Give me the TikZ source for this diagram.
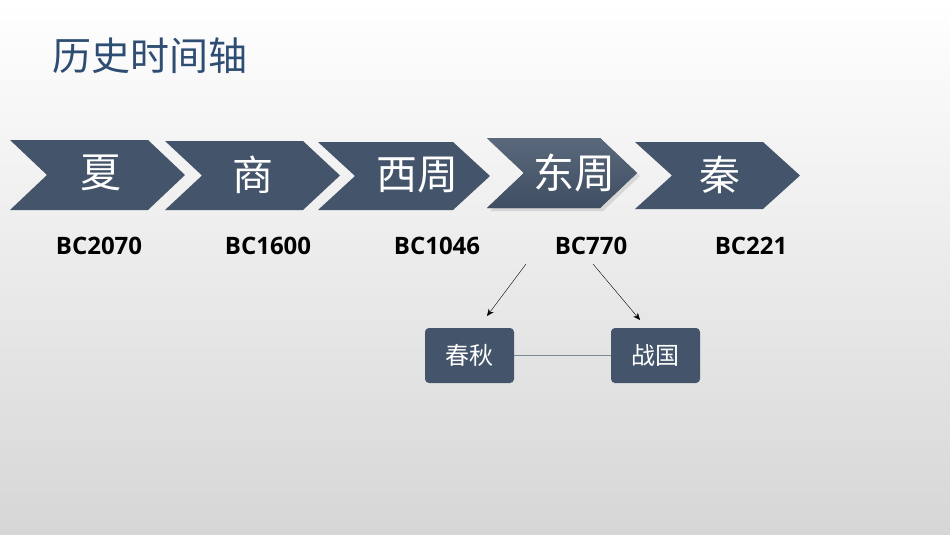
\documentclass[tikz,border=0pt]{standalone}
\usepackage{fontspec}
\newfontfamily\cjk{Noto Sans CJK SC}
\newfontfamily\lat{Open Sans}
\usetikzlibrary{arrows.meta}
\definecolor{slate}{HTML}{44546A}
\definecolor{ttl}{HTML}{2E4D73}
\tikzset{
 chev/.style={fill=slate},
 chevtxt/.style={text=white,font=\cjk\fontsize{41}{44}\selectfont},
 bc/.style={font=\lat\bfseries\fontsize{24}{27}\selectfont},
 sub/.style={fill=slate,rounded corners=4pt,minimum width=89pt,minimum height=55pt,text=white,font=\cjk\fontsize{24}{27}\selectfont},
 arr/.style={-{Stealth[length=7pt,width=6pt]},thin}
}
\begin{document}
\begin{tikzpicture}[x=1pt,y=-1pt]
\shade[top color=white,bottom color=black!16] (0,0) rectangle (950,535);
\useasboundingbox (0,0) rectangle (950,535);
\node[anchor=west,text=ttl,font=\cjk\fontsize{39}{42}\selectfont] (title) at (49,56) {历史时间轴};
\newcommand\chevron[5]{%
 \fill[chev,#5] (#1,#3) -- (#2-37,#3) -- (#2,#3/2+#4/2) -- (#2-37,#4) -- (#1,#4) -- (#1+37,#3/2+#4/2) -- cycle;}
\chevron{10}{185}{140}{210}{}
\chevron{165}{340}{141}{210}{}
\chevron{318}{490}{142}{210}{}
\chevron{635}{800}{142}{209}{}
\fill[black!25,opacity=0.5] (490,142) -- (603,142) -- (640,176) -- (603,211) -- (490,211) -- (527,176) -- cycle;
\chevron{487}{637}{138}{208}{top color=slate!88,bottom color=slate!92!black}
\node[chevtxt] (xia) at (101,173) {夏};
\node[chevtxt] (shang) at (253,175) {商};
\node[chevtxt] (xz) at (417,175) {西周};
\node[chevtxt] (dz) at (574,173) {东周};
\node[chevtxt] (qin) at (720,175) {秦};
\node[bc] (b1) at (99,246) {BC2070};
\node[bc] (b2) at (268,246) {BC1600};
\node[bc] (b3) at (437,246) {BC1046};
\node[bc] (b4) at (591,246) {BC770};
\node[bc] (b5) at (751,246) {BC221};
\node[sub] (cq) at (469.5,355.5) {春秋};
\node[sub] (zg) at (655.5,355.5) {战国};
\coordinate (s1) at (526,264); \coordinate (e1) at (487,316);
\coordinate (s2) at (593,264); \coordinate (e2) at (640,320);
\draw[arr] (s1) -- (e1);
\draw[arr] (s2) -- (e2);
\draw[slate!70,thin] (cq) -- (zg);
\end{tikzpicture}
\end{document}
